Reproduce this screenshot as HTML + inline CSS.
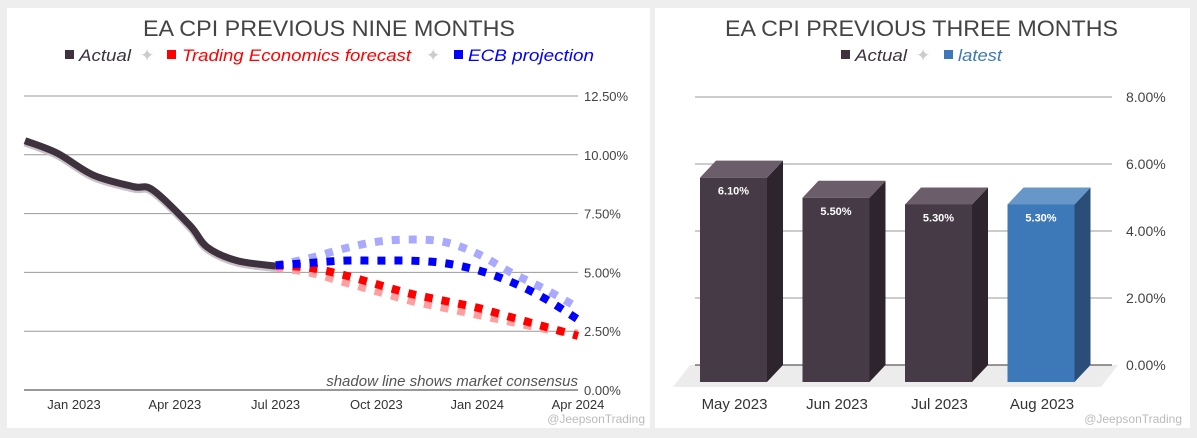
<!DOCTYPE html>
<html><head><meta charset="utf-8">
<style>
body{margin:0;background:#eeeeee;width:1197px;height:438px;overflow:hidden;font-family:"Liberation Sans",sans-serif;}
.panel{position:absolute;background:#fff;top:8px;height:420px;}
svg{position:absolute;left:0;top:0}
</style></head>
<body>
<div class="panel" style="left:7px;width:643px"></div>
<div class="panel" style="left:655px;width:535px"></div>
<svg width="1197" height="438" id="svg">
<g id="left">
<text x="143" y="36" textLength="372" lengthAdjust="spacingAndGlyphs" font-size="22" fill="#444">EA CPI PREVIOUS NINE MONTHS</text>
<g font-size="17" font-style="italic">
<rect x="65" y="50" width="9" height="9" fill="#3d323d"/>
<text x="79" y="61" textLength="52" lengthAdjust="spacingAndGlyphs" fill="#3d323d">Actual</text>
<text x="140" y="61" fill="#ccc" font-style="normal">✦</text>
<rect x="167" y="50" width="9" height="9" fill="#ff0000"/>
<text x="182" y="61" textLength="229" lengthAdjust="spacingAndGlyphs" fill="#ff0000">Trading Economics forecast</text>
<text x="426" y="61" fill="#ccc" font-style="normal">✦</text>
<rect x="454" y="50" width="9" height="9" fill="#0000ff"/>
<text x="468" y="61" textLength="126" lengthAdjust="spacingAndGlyphs" fill="#0000ff">ECB projection</text>
</g>
</g>
<g id="right">
<text x="725" y="36" textLength="393" lengthAdjust="spacingAndGlyphs" font-size="22" fill="#444">EA CPI PREVIOUS THREE MONTHS</text>
<g font-size="17" font-style="italic">
<rect x="841" y="50" width="9" height="9" fill="#3d323d"/>
<text x="855" y="61" textLength="52" lengthAdjust="spacingAndGlyphs" fill="#3d323d">Actual</text>
<text x="916" y="61" fill="#ccc" font-style="normal">✦</text>
<rect x="944" y="50" width="9" height="9" fill="#3d78b8"/>
<text x="958" y="61" textLength="44" lengthAdjust="spacingAndGlyphs" fill="#3d78b8">latest</text>
</g>
</g>
</svg>
<script>
// ---- left chart data (x = months since Jan 2023) ----
const actualX = [-1.46, -0.5, 0.57, 1.76, 2.35, 3.45, 3.96, 4.85, 6];
const actualY = [10.6, 10.07, 9.14, 8.65, 8.5, 7.0, 6.08, 5.5, 5.27];
const fcX = [6, 7, 8, 9, 10, 11, 12, 13, 14, 15];
const ecbY = [5.3, 5.4, 5.5, 5.5, 5.5, 5.4, 5.1, 4.6, 3.9, 3.0];
const ecbShadowY = [5.3, 5.6, 6.0, 6.3, 6.4, 6.3, 5.8, 5.0, 4.3, 3.5];
const teY = [5.3, 5.2, 4.9, 4.5, 4.1, 3.8, 3.5, 3.1, 2.7, 2.3];
const teShadowY = [5.2, 5.0, 4.6, 4.2, 3.8, 3.5, 3.2, 2.9, 2.6, 2.4];
const leftTicks = [0, 2.5, 5, 7.5, 10, 12.5];
const leftTickLabels = ["0.00%", "2.50%", "5.00%", "7.50%", "10.00%", "12.50%"];
const monthTicks = [0, 3, 6, 9, 12, 15];
const monthLabels = ["Jan 2023", "Apr 2023", "Jul 2023", "Oct 2023", "Jan 2024", "Apr 2024"];
// ---- right chart data ----
const barCats = ["May 2023", "Jun 2023", "Jul 2023", "Aug 2023"];
const barVals = [6.1, 5.5, 5.3, 5.3];
const barLabels = ["6.10%", "5.50%", "5.30%", "5.30%"];
const rightTicks = [0, 2, 4, 6, 8];
const rightTickLabels = ["0.00%", "2.00%", "4.00%", "6.00%", "8.00%"];

const NS = "http://www.w3.org/2000/svg";
function mk(tag, attrs, parent) {
  const e = document.createElementNS(NS, tag);
  for (const k in attrs) e.setAttribute(k, attrs[k]);
  parent.appendChild(e);
  return e;
}
const L = document.getElementById('left');
const R = document.getElementById('right');
const lx = m => 74 + m * 33.6;
const ly = v => 390 - v * 23.52;

leftTicks.forEach((t, i) => {
  const g = mk('line', {x1: 24, x2: 578, y1: ly(t), y2: ly(t), stroke: t === 0 ? '#333' : '#999', 'stroke-width': 1}, L);
  
  
  const tx = mk('text', {x: 584, y: ly(t) + 5, 'font-size': 13, fill: '#444'}, L);
  tx.textContent = leftTickLabels[i];
  
  
});
monthTicks.forEach((m, i) => {
  const tx = mk('text', {x: lx(m), y: 409, 'font-size': 13, fill: '#333', 'text-anchor': 'middle'}, L);
  tx.textContent = monthLabels[i];
  
  
});
function smooth(xs, ys) {
  const p = xs.map((x, i) => [lx(x), ly(ys[i])]);
  let d = `M${p[0][0]},${p[0][1]}`;
  for (let i = 0; i < p.length - 1; i++) {
    const p0 = p[i - 1] || p[i], p1 = p[i], p2 = p[i + 1], p3 = p[i + 2] || p2;
    const c1 = [p1[0] + (p2[0] - p0[0]) / 6, p1[1] + (p2[1] - p0[1]) / 6];
    const c2 = [p2[0] - (p3[0] - p1[0]) / 6, p2[1] - (p3[1] - p1[1]) / 6];
    d += ` C${c1[0]},${c1[1]} ${c2[0]},${c2[1]} ${p2[0]},${p2[1]}`;
  }
  return d;
}
const a2 = mk('path', {d: smooth(actualX, actualY.map(v => v - 0.08)), fill: 'none', stroke: '#c8c2c8', 'stroke-width': 8}, L);


const a1 = mk('path', {d: smooth(actualX, actualY), fill: 'none', stroke: '#3d323d', 'stroke-width': 7}, L);


[[teShadowY, '#ff9f9f', 'te-shadow-line'], [ecbShadowY, '#a9a9ff', 'ecb-shadow-line'], [teY, '#ff0000', 'te-forecast-line'], [ecbY, '#0000ff', 'ecb-projection-line']].forEach(s => {
  const p = mk('path', {d: smooth(fcX, s[0]), fill: 'none', stroke: s[1], 'stroke-width': 8, 'stroke-dasharray': '8 9'}, L);
  
  
});
const note = mk('text', {x: 578, y: 386, 'font-size': 15, 'font-style': 'italic', fill: '#555', 'text-anchor': 'end'}, L);
note.textContent = 'shadow line shows market consensus';


const w1 = mk('text', {x: 645, y: 423, 'font-size': 12, fill: '#bbb', 'text-anchor': 'end'}, L);
w1.textContent = '@JeepsonTrading';



// ---- right chart ----
const ry = v => 365 - v * 33.5;
const floor = mk('polygon', {points: '673,387 690,365 1118,365 1101,387', fill: '#ececec'}, R);


rightTicks.forEach((t, i) => {
  const g = mk('line', {x1: 695, x2: 1112, y1: ry(t), y2: ry(t), stroke: t === 0 ? '#333' : '#999', 'stroke-width': 1}, R);
  
  
  const tx = mk('text', {x: 1126, y: ry(t) + 5, 'font-size': 14, fill: '#444'}, R);
  tx.textContent = rightTickLabels[i];
  
  
});
const dx = 16, dy = 17, bw = 67;
barCats.forEach((c, i) => {
  const x0 = 700 + i * 102.5, base = 382, top = base - barVals[i] * 33.5;
  const last = i === barCats.length - 1;
  const front = last ? '#3d78b8' : '#453a45', side = last ? '#2a4e78' : '#2e242d', topc = last ? '#6797c8' : '#6b5e6a';
  const g = mk('g', {}, R);
  
  
  mk('polygon', {points: `${x0 + bw},${top} ${x0 + bw + dx},${top - dy} ${x0 + bw + dx},${base - dy} ${x0 + bw},${base}`, fill: side}, g);
  mk('polygon', {points: `${x0},${top} ${x0 + dx},${top - dy} ${x0 + bw + dx},${top - dy} ${x0 + bw},${top}`, fill: topc}, g);
  mk('rect', {x: x0, y: top, width: bw, height: base - top, fill: front}, g);
  const lt = mk('text', {x: x0 + bw / 2, y: top + 17, 'font-size': 11, 'font-weight': 'bold', fill: '#fff', 'text-anchor': 'middle'}, g);
  lt.textContent = barLabels[i];
  const xt = mk('text', {x: x0 + bw / 2 + 1, y: 409, 'font-size': 15, fill: '#333', 'text-anchor': 'middle'}, R);
  xt.textContent = c;
  
  
});
const w2 = mk('text', {x: 1182, y: 423, 'font-size': 12, fill: '#bbb', 'text-anchor': 'end'}, R);
w2.textContent = '@JeepsonTrading';


</script>
</body></html>
